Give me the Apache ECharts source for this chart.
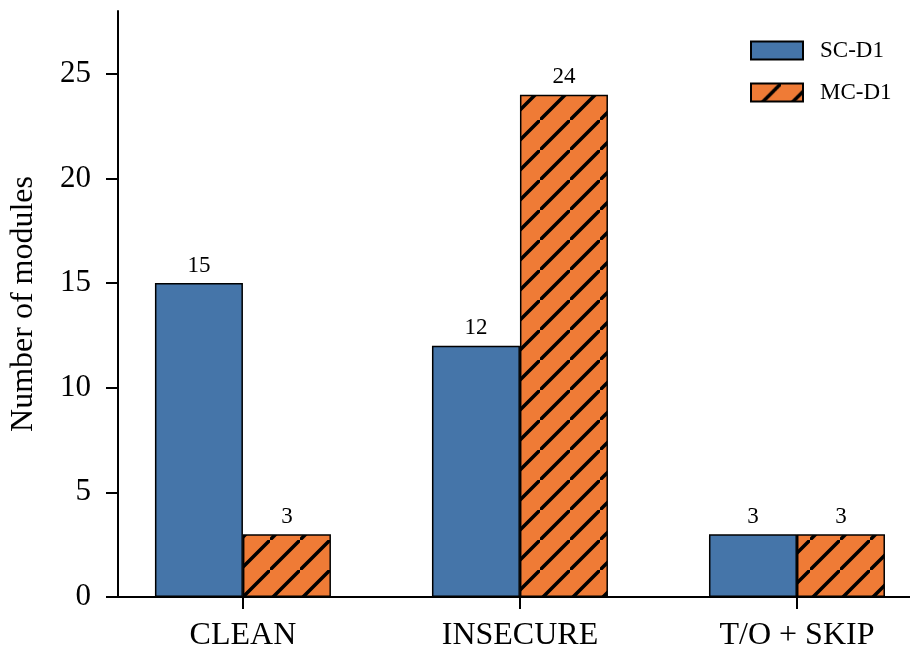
<!DOCTYPE html>
<html>
<head>
<meta charset="utf-8">
<script src="https://cdn.jsdelivr.net/npm/echarts@6/dist/echarts.min.js"></script>
<style>
  html, body { margin: 0; padding: 0; background: #fff; }
  #chart { width: 910px; height: 650px; }
</style>
</head>
<body>
<div id="chart"></div>
<script>
var categories = ["CLEAN", "INSECURE", "T/O + SKIP"];
var scD1 = [15, 12, 3];
var mcD1 = [3, 24, 3];
var seriesNames = ["SC-D1", "MC-D1"];
var yTicks = [0, 5, 10, 15, 20, 25];

var font = "'Liberation Serif', 'Times New Roman', serif";

// hatch "/" for the MC bars
function makeHatch() {
  var s = 30;
  var c = document.createElement("canvas");
  c.width = s; c.height = s;
  var ctx = c.getContext("2d");
  ctx.fillStyle = "#ef7b36";
  ctx.fillRect(0, 0, s, s);
  ctx.strokeStyle = "#000";
  ctx.lineWidth = 3.5;
  ctx.beginPath();
  ctx.moveTo(-s, s * 2); ctx.lineTo(s * 2, -s);
  ctx.moveTo(-s * 2, s); ctx.lineTo(s, -s * 2);
  ctx.moveTo(0, s * 3); ctx.lineTo(s * 3, 0);
  ctx.stroke();
  return c;
}

function toPairs(arr) {
  return arr.map(function (v, i) { return [i, v]; });
}

var chart = echarts.init(document.getElementById("chart"));
var option = {
  animation: false,
  textStyle: { fontFamily: font, color: "#000" },
  grid: { left: 118, right: 0, top: 11, bottom: 53, outerBoundsMode: "none" },
  legend: {
    orient: "vertical",
    left: 745,
    top: 34,
    icon: "rect",
    itemWidth: 52,
    itemHeight: 18,
    itemGap: 19,
    textStyle: { fontFamily: font, fontSize: 23, color: "#000", padding: [0, 0, 0, 12] },
    data: seriesNames
  },
  xAxis: {
    type: "value",
    min: -0.451,
    max: 2.408,
    splitLine: { show: false },
    axisLine: { onZero: false, lineStyle: { color: "#000", width: 2 } },
    axisTick: { show: true, length: 12, lineStyle: { width: 2 }, customValues: [0, 1, 2] },
    axisLabel: {
      customValues: [0, 1, 2],
      margin: 23,
      fontSize: 32,
      fontFamily: font,
      color: "#000",
      formatter: function (v) { return categories[Math.round(v)]; }
    }
  },
  yAxis: {
    type: "value",
    min: 0,
    max: 28,
    interval: 5,
    name: "Number of modules",
    nameLocation: "middle",
    nameGap: 78,
    nameTextStyle: { fontFamily: font, fontSize: 32, color: "#000" },
    splitLine: { show: false },
    axisLine: { show: true, onZero: false, lineStyle: { color: "#000", width: 2 } },
    axisTick: { show: true, length: 12, lineStyle: { width: 2 }, customValues: yTicks },
    axisLabel: {
      customValues: yTicks,
      margin: 27,
      fontSize: 31,
      fontFamily: font,
      color: "#000"
    }
  },
  series: [
    {
      name: seriesNames[0],
      type: "bar",
      barWidth: 88,
      barGap: "0%",
      data: toPairs(scD1),
      itemStyle: { color: "#4575a9", borderColor: "#000", borderWidth: 1.5 },
      label: { show: true, position: "top", distance: 6, fontSize: 23, fontFamily: font, color: "#000",
        formatter: function (p) { return p.value[1]; } }
    },
    {
      name: seriesNames[1],
      type: "bar",
      barWidth: 88,
      barGap: "0%",
      data: toPairs(mcD1),
      itemStyle: { color: { image: makeHatch(), repeat: "repeat" }, borderColor: "#000", borderWidth: 1.5 },
      label: { show: true, position: "top", distance: 6, fontSize: 23, fontFamily: font, color: "#000",
        formatter: function (p) { return p.value[1]; } }
    }
  ]
};
chart.setOption(option);
window.addEventListener("resize", function () {
  chart.resize();
});
</script>
</body>
</html>
